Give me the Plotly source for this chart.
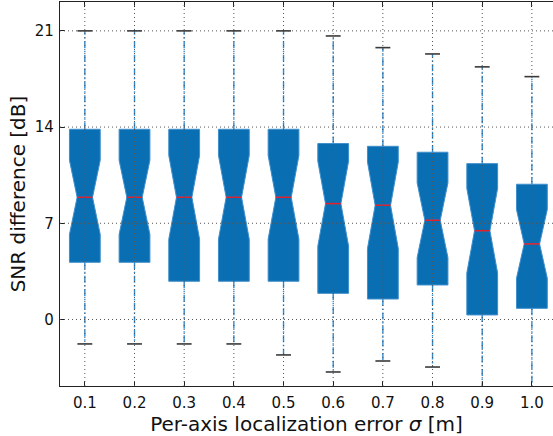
import plotly.graph_objects as go

# ---- data ----
positions = [1, 2, 3, 4, 5, 6, 7, 8, 9, 10]
tick_labels = ["0.1", "0.2", "0.3", "0.4", "0.5", "0.6", "0.7", "0.8", "0.9", "1.0"]
q3 = [13.84, 13.84, 13.84, 13.84, 13.84, 12.80, 12.60, 12.17, 11.34, 9.84]
median = [8.89, 8.89, 8.89, 8.89, 8.89, 8.43, 8.31, 7.22, 6.46, 5.50]
q1 = [4.16, 4.16, 2.78, 2.78, 2.78, 1.90, 1.49, 2.51, 0.33, 0.81]
notch = [2.70, 2.70, 3.05, 3.05, 3.05, 3.10, 3.15, 2.72, 3.08, 2.50]
whisker_low = [-1.78, -1.78, -1.78, -1.78, -2.58, -3.82, -3.02, -3.46, -5.60, -5.60]
whisker_high = [21.0, 21.0, 21.0, 21.0, 21.0, 20.63, 19.78, 19.32, 18.38, 17.67]
y_ticks = [0, 7, 14, 21]

# ---- style ----
BOX_FILL = "#0a6eb2"
BOX_EDGE = "#3f8fcc"
WHISKER = "#3189cf"
CAP = "#3a3a3a"
MEDIAN = "#e3202a"
BOX_W = 0.62
HALF_WAIST = BOX_W * 0.25
HALF_CAP = 0.15
FONT = "DejaVu Sans"

fig = go.Figure()

fig.add_trace(go.Box(
    x=positions, q1=q1, median=median, q3=q3,
    lowerfence=q1, upperfence=q3, notchspan=notch,
    notched=True, notchwidth=0.25, width=BOX_W,
    fillcolor=BOX_FILL, line=dict(color=BOX_EDGE, width=1),
    whiskerwidth=0, boxpoints=False, hoverinfo="skip", showlegend=False,
))

# whiskers
wx, wy = [], []
for p, a, b, lo, hi in zip(positions, q1, q3, whisker_low, whisker_high):
    wx += [p, p, None, p, p, None]
    wy += [b, hi, None, a, lo, None]
fig.add_trace(go.Scatter(x=wx, y=wy, mode="lines",
                         line=dict(color=WHISKER, width=1.4, dash="7px,2.5px,1.5px,2.5px"),
                         hoverinfo="skip", showlegend=False))

# caps
cx, cy = [], []
for p, lo, hi in zip(positions, whisker_low, whisker_high):
    cx += [p - HALF_CAP, p + HALF_CAP, None, p - HALF_CAP, p + HALF_CAP, None]
    cy += [hi, hi, None, lo, lo, None]
fig.add_trace(go.Scatter(x=cx, y=cy, mode="lines",
                         line=dict(color=CAP, width=1.6),
                         hoverinfo="skip", showlegend=False))

# medians
mx, my = [], []
for p, m in zip(positions, median):
    mx += [p - HALF_WAIST, p + HALF_WAIST, None]
    my += [m, m, None]
fig.add_trace(go.Scatter(x=mx, y=my, mode="lines",
                         line=dict(color=MEDIAN, width=1.5),
                         hoverinfo="skip", showlegend=False))

# grid drawn above the marks (as in the reference)
shapes = []
for p in positions:
    shapes.append(dict(type="line", xref="x", yref="paper", x0=p, x1=p, y0=0, y1=1,
                       line=dict(color="#555555", width=1, dash="1px,3px"), layer="above"))
for t in y_ticks:
    shapes.append(dict(type="line", xref="paper", yref="y", x0=0, x1=1, y0=t, y1=t,
                       line=dict(color="#555555", width=1, dash="1px,3px"), layer="above"))

fig.update_layout(
    width=553, height=436,
    margin=dict(l=60, r=0, t=2, b=50),
    paper_bgcolor="white", plot_bgcolor="white",
    font=dict(family=FONT, color="#111111", size=15),
    shapes=shapes,
    xaxis=dict(
        range=[0.5, 10.425], tickmode="array", tickvals=positions, ticktext=tick_labels,
        showgrid=False, zeroline=False, showline=True, linecolor="#222222", linewidth=1.3,
        mirror="ticks", ticks="inside", ticklen=5, tickcolor="#222222",
        tickfont=dict(size=15), ticklabelstandoff=3,
        title=dict(text="Per-axis localization error <i>σ</i> [m]", font=dict(size=20), standoff=5),
    ),
    yaxis=dict(
        range=[-4.84, 23.1], tickmode="array", tickvals=y_ticks,
        showgrid=False, zeroline=False, showline=True, linecolor="#222222", linewidth=1.3,
        mirror=False, ticks="inside", ticklen=5, tickcolor="#222222",
        tickfont=dict(size=15), ticklabelstandoff=2,
        title=dict(text="SNR difference [dB]", font=dict(size=20), standoff=3),
    ),
)

fig.write_html("out.html", config={"displayModeBar": False},
               post_script="document.body.style.margin='0';")
